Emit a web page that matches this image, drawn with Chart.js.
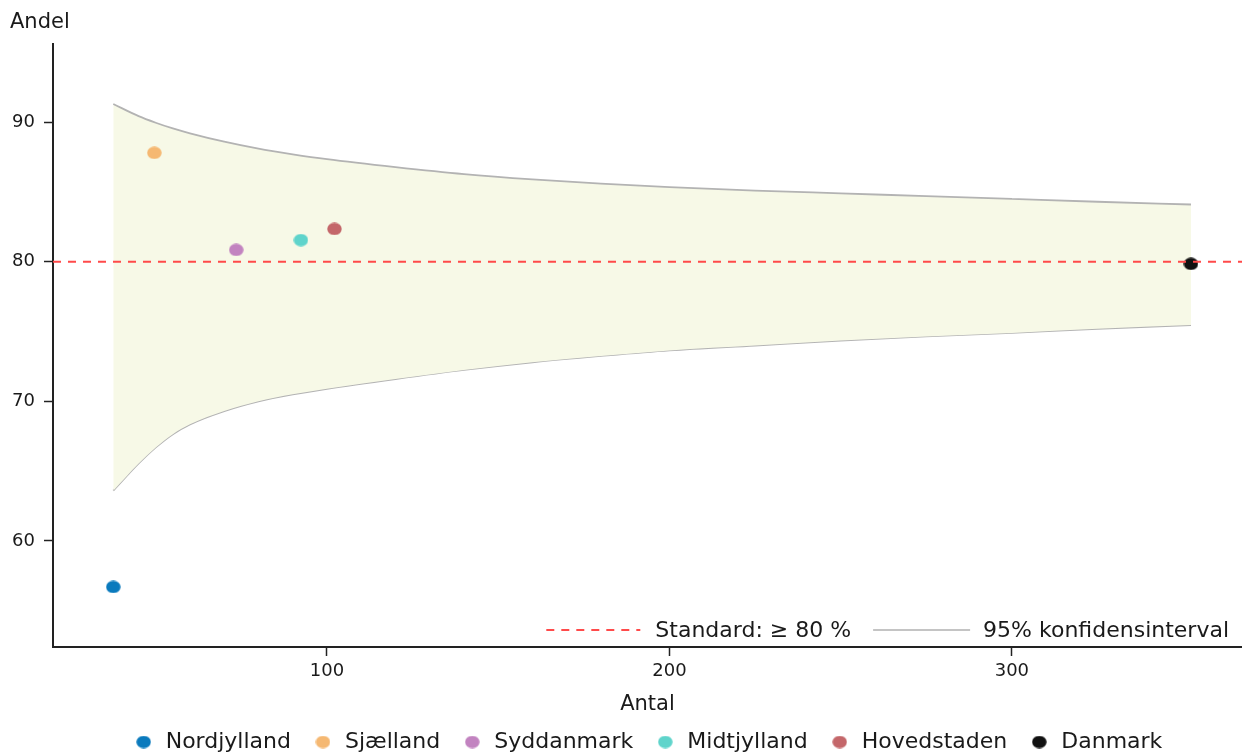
<!DOCTYPE html>
<html>
<head>
<meta charset="utf-8">
<script src="https://cdn.jsdelivr.net/npm/chart.js@4.4.1/dist/chart.umd.min.js"></script>
<style>
  html, body { margin: 0; padding: 0; background: #ffffff; overflow: hidden; }
  #wrap { width: 1242px; height: 753px; position: relative; }
</style>
</head>
<body>
<div id="wrap"><canvas id="c" width="1242" height="753"></canvas></div>
<script>
// ---- data ----
const regions = ['Nordjylland', 'Sjælland', 'Syddanmark', 'Midtjylland', 'Hovedstaden', 'Danmark'];
const regionAntal = [37.6, 49.6, 73.5, 92.4, 102.2, 352.3];
const regionAndel = [56.7, 87.8, 80.85, 81.55, 82.35, 79.85];
const regionColors = ['#0a7abd', '#f5b872', '#c283c0', '#5fd4cb', '#c4676a', '#111111'];

const ciAntal = [37.6, 45, 50, 55, 60, 70, 80, 90, 100, 120, 140, 160, 180, 200, 225, 250, 275, 300, 325, 352.3];
const ciUpper = [91.3, 90.43, 89.96, 89.55, 89.2, 88.6, 88.1, 87.7, 87.35, 86.78, 86.28, 85.9, 85.6, 85.35, 85.1, 84.9, 84.7, 84.5, 84.3, 84.1];
const ciLower = [63.6, 65.55, 66.7, 67.65, 68.35, 69.3, 70.0, 70.5, 70.9, 71.6, 72.25, 72.8, 73.25, 73.65, 74.0, 74.35, 74.65, 74.9, 75.2, 75.46];

const standardValue = 80;
const standardLabel = 'Standard: ≥ 80 %';
const ciLabel = '95% konfidensinterval';

const xTicks = [100, 200, 300];
const yTicks = [60, 70, 80, 90];
const xRange = [20, 367.2];
const yRange = [52.4, 95.6];

const xTitle = 'Antal';
const yTitle = 'Andel';

// ---- styling ----
const FONT = 'DejaVu Sans';
const TEXT = '#1a1a1a';
const AXIS = '#222222';
const BAND_FILL = '#f7f9e7';
const BAND_LINE = '#b3b3b3';
const LEGEND_GRAY = '#c4c4c4';
const STD_LINE = '#ff4a4a';

function dotImage(color) {
  const c = document.createElement('canvas');
  c.width = 15; c.height = 13;
  const g = c.getContext('2d');
  g.fillStyle = color;
  g.beginPath();
  g.ellipse(7.5, 6.5, 7.2, 6.2, 0, 0, Math.PI * 2);
  g.fill();
  return c;
}

const datasets = [];
datasets.push({
  type: 'line',
  label: standardLabel,
  data: [{ x: xRange[0], y: standardValue }, { x: xRange[1], y: standardValue }],
  borderColor: STD_LINE,
  borderWidth: 2,
  borderDash: [8, 7],
  pointRadius: 0,
  fill: false,
  order: 0
});
regions.forEach((r, i) => {
  datasets.push({
    type: 'scatter',
    label: r,
    data: [{ x: regionAntal[i], y: regionAndel[i] }],
    pointStyle: dotImage(regionColors[i]),
    backgroundColor: regionColors[i],
    borderColor: regionColors[i],
    pointRadius: 7,
    order: 1
  });
});
datasets.push({
  type: 'line',
  label: ciLabel,
  data: ciAntal.map((n, i) => ({ x: n, y: ciUpper[i] })),
  borderColor: BAND_LINE,
  borderWidth: 1.8,
  pointRadius: 0,
  cubicInterpolationMode: 'monotone',
  fill: '+1',
  backgroundColor: BAND_FILL,
  order: 3
});
datasets.push({
  type: 'line',
  label: 'ci-lower',
  data: ciAntal.map((n, i) => ({ x: n, y: ciLower[i] })),
  borderColor: BAND_LINE,
  borderWidth: 1.8,
  pointRadius: 0,
  cubicInterpolationMode: 'monotone',
  fill: false,
  order: 3
});

const extraText = {
  id: 'extraText',
  afterDraw(chart) {
    const ctx = chart.ctx;
    const ca = chart.chartArea;
    ctx.save();
    // y-axis title (horizontal, top-left)
    ctx.font = '21px "' + FONT + '"';
    ctx.fillStyle = TEXT;
    ctx.textAlign = 'left';
    ctx.textBaseline = 'alphabetic';
    ctx.fillText(yTitle, 10, 28);

    // inner legend (bottom-right of plot)
    const y = 630;
    ctx.font = '22px "' + FONT + '"';
    ctx.textBaseline = 'middle';
    const right = ca.right - 13;
    const w2 = ctx.measureText(ciLabel).width;
    const x2 = right - w2;
    const l2e = x2 - 13, l2s = l2e - 97;
    const t1e = l2s - 22;
    const w1 = ctx.measureText(standardLabel).width;
    const x1 = t1e - w1;
    const l1e = x1 - 15, l1s = l1e - 94;

    ctx.strokeStyle = STD_LINE;
    ctx.lineWidth = 2;
    ctx.setLineDash([8, 7]);
    ctx.beginPath(); ctx.moveTo(l1s, y); ctx.lineTo(l1e, y); ctx.stroke();
    ctx.setLineDash([]);
    ctx.strokeStyle = LEGEND_GRAY;
    ctx.lineWidth = 2;
    ctx.beginPath(); ctx.moveTo(l2s, y); ctx.lineTo(l2e, y); ctx.stroke();

    ctx.fillStyle = TEXT;
    ctx.fillText(standardLabel, x1, y + 1);
    ctx.fillText(ciLabel, x2, y + 1);
    ctx.restore();
  }
};

new Chart(document.getElementById('c'), {
  type: 'scatter',
  data: { datasets },
  options: {
    responsive: false,
    animation: false,
    devicePixelRatio: 1,
    layout: { autoPadding: false, padding: { top: 44, left: 0, right: 0, bottom: -10 } },
    plugins: {
      legend: {
        position: 'bottom',
        fullSize: false,
        labels: {
          filter: (item) => regions.includes(item.text),
          usePointStyle: true,
          pointStyleWidth: 22,
          boxHeight: 11,
          padding: 21,
          color: TEXT,
          font: { family: FONT, size: 22 }
        }
      },
      tooltip: { enabled: false }
    },
    scales: {
      x: {
        type: 'linear',
        min: xRange[0],
        max: xRange[1],
        afterBuildTicks: (s) => { s.ticks = xTicks.map(v => ({ value: v })); },
        afterFit: (s) => { s.height = 63; },
        grid: { drawOnChartArea: false, drawTicks: true, tickLength: 9, tickWidth: 1.5, tickColor: AXIS },
        border: { display: true, color: AXIS, width: 2 },
        ticks: { color: TEXT, font: { family: FONT, size: 18 }, padding: 5, maxRotation: 0 },
        title: { display: true, text: xTitle, color: TEXT, font: { family: FONT, size: 21, lineHeight: 1 }, padding: { top: 0, bottom: -5 } }
      },
      y: {
        type: 'linear',
        min: yRange[0],
        max: yRange[1],
        afterBuildTicks: (s) => { s.ticks = yTicks.map(v => ({ value: v })); },
        afterFit: (s) => { s.width = 53; },
        grid: { drawOnChartArea: false, drawTicks: true, tickLength: 9, tickWidth: 1.5, tickColor: AXIS },
        border: { display: true, color: AXIS, width: 2 },
        ticks: { color: TEXT, font: { family: FONT, size: 18 }, padding: 9 }
      }
    }
  },
  plugins: [extraText]
});
</script>
</body>
</html>
